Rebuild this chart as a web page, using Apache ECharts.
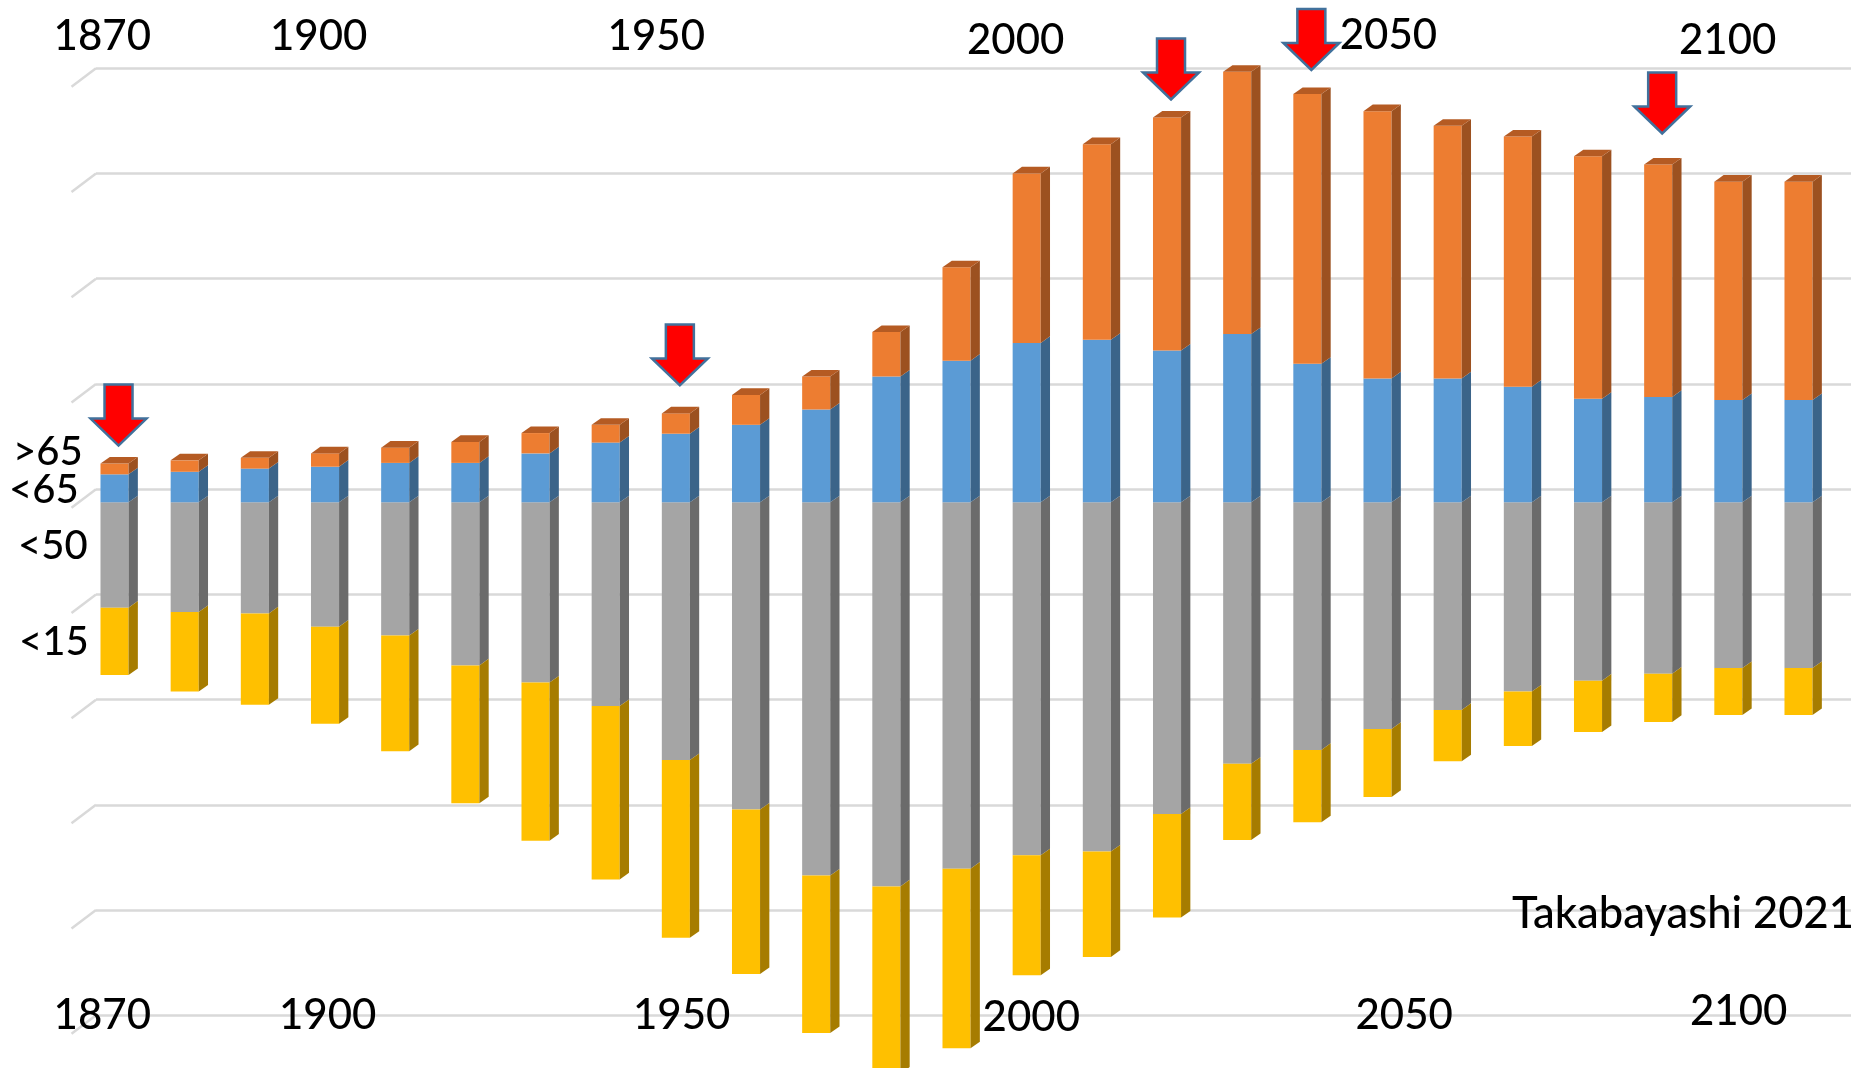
<!DOCTYPE html>
<html>
<head>
<meta charset="utf-8">
<title>Population by age group, 1870-2110</title>
<script src="https://cdn.jsdelivr.net/npm/echarts@6/dist/echarts.min.js"></script>
<style>
  html, body { margin: 0; padding: 0; background: #ffffff; }
  #chart { width: 1868px; height: 1068px; }
</style>
</head>
<body>
<div id="chart"></div>
<script>
// ---- data (millions of people) ----
const years = [1870, 1880, 1890, 1900, 1910, 1920, 1930, 1940, 1950, 1960, 1970, 1980, 1990,
               2000, 2010, 2020, 2030, 2040, 2050, 2060, 2070, 2080, 2090, 2100, 2110];
const under15   = [10.6, 12.5, 14.4, 15.3, 18.2, 21.7, 24.9, 27.3, 28.0, 25.9, 24.8, 29.5, 28.3,
                   18.9, 16.6, 16.3, 12.0, 11.4, 10.7, 8.1, 8.6, 8.1, 7.6, 7.4, 7.4];
const age15to49 = [16.6, 17.3, 17.5, 19.6, 21.0, 25.7, 28.4, 32.1, 40.6, 48.4, 58.8, 60.5, 57.7,
                   55.6, 55.0, 49.1, 41.2, 39.0, 35.7, 32.7, 29.8, 28.1, 27.0, 26.1, 26.1];
const age50to64 = [4.4, 4.8, 5.3, 5.6, 6.2, 6.2, 7.7, 9.4, 10.8, 12.2, 14.6, 19.8, 22.3,
                   25.1, 25.6, 23.9, 26.5, 21.8, 19.5, 19.5, 18.2, 16.3, 16.6, 16.1, 16.1];
const over65    = [1.7, 1.8, 1.7, 2.1, 2.4, 3.3, 3.2, 2.8, 3.2, 4.7, 5.2, 7.0, 14.7,
                   26.7, 30.8, 36.7, 41.3, 42.5, 42.1, 39.8, 39.4, 38.2, 36.6, 34.4, 34.4];

const arrowYears = [1870, 1950, 2020, 2040, 2090];
const topYearLabels = ['1870', '1900', '1950', '2000', '2050', '2100'];
const bottomYearLabels = ['1870', '1900', '1950', '2000', '2050', '2100'];
const ageLabels = ['>65', '<65', '<50', '<15'];
const creditText = 'Takabayashi 2021';
const gridLevels = [0, 1, 2, 3, 4, 5, 6, 7, 8, 9];

// ---- layout & style ----
const X_MIN = 1867.36, X_MAX = 2117.48;
const BAR_YEARS = 4;          // front-face width expressed in years
const DX = 9.3, DY = 6.6;     // depth offset of the 3D bars
const WALL_DX = 24.5, WALL_DY = 18.5;
const FONT = 'Lato, "Open Sans", sans-serif';

const topYearPos    = [[53.6, 36.7], [270, 36.7], [607.6, 36.2], [967, 40], [1339.7, 35], [1679, 40]];
const bottomYearPos = [[53.6, 1015], [279, 1015], [633, 1015.3], [982.6, 1017.5], [1355.5, 1015], [1690, 1011.7]];
const ageLabelPos   = [[13, 452.5], [9, 490.3], [18, 545.8], [19, 642]];
const arrowGapPx    = [18, 28, 18, 24, 31];

const palette = {
  '<15': { front: '#FFC000', side: '#A67C00', top: '#C79600' },
  '<50': { front: '#A5A5A5', side: '#6B6B6B', top: '#858585' },
  '<65': { front: '#5B9BD5', side: '#3B6489', top: '#4A7DAE' },
  '>65': { front: '#ED7D31', side: '#9C5120', top: '#B55B23' }
};

// stacked bounds: working-age split at zero, younger groups below, older above
function buildStack() {
  const rows = { '<50': [], '<15': [], '<65': [], '>65': [] };
  years.forEach((yr, i) => {
    const g = age15to49[i], y = under15[i], b = age50to64[i], o = over65[i];
    rows['<50'].push([yr, 0, -g]);
    rows['<15'].push([yr, -g, -(g + y)]);
    rows['<65'].push([yr, 0, b]);
    rows['>65'].push([yr, b, b + o]);
  });
  return rows;
}
const stack = buildStack();

function barRenderer(colors, withTop) {
  return function (params, api) {
    const yr = api.value(0);
    const a = api.coord([yr, api.value(1)]);
    const b = api.coord([yr, api.value(2)]);
    const w = api.size([BAR_YEARS, 0])[0];
    const left = a[0] - w / 2, right = a[0] + w / 2;
    const top = Math.min(a[1], b[1]), bottom = Math.max(a[1], b[1]);
    const children = [
      { type: 'rect', shape: { x: left, y: top, width: w, height: bottom - top },
        style: { fill: colors.front } },
      { type: 'polygon',
        shape: { points: [[right, top], [right + DX, top - DY], [right + DX, bottom - DY], [right, bottom]] },
        style: { fill: colors.side } }
    ];
    if (withTop) {
      children.push({ type: 'polygon',
        shape: { points: [[left, top], [left + DX, top - DY], [right + DX, top - DY], [right, top]] },
        style: { fill: colors.top } });
    }
    return { type: 'group', children };
  };
}

function barSeries(name, withTop) {
  return {
    name, type: 'custom', xAxisIndex: 0, yAxisIndex: 0, clip: false, z: 3,
    data: stack[name],
    encode: { x: 0, y: [1, 2] },
    renderItem: barRenderer(palette[name], withTop)
  };
}

const arrowData = arrowYears.map(yr => {
  const i = years.indexOf(yr);
  return [yr, age50to64[i] + over65[i]];
});

const gridData = gridLevels.map(l => [X_MIN, l]);

const chart = echarts.init(document.getElementById('chart'), null, { renderer: 'canvas' });

const graphics = [];
topYearLabels.forEach((t, i) => graphics.push({
  type: 'text', x: topYearPos[i][0], y: topYearPos[i][1], z: 10,
  style: { text: t, font: '500 42px ' + FONT, fill: '#000', textAlign: 'left', textVerticalAlign: 'middle' }
}));
bottomYearLabels.forEach((t, i) => graphics.push({
  type: 'text', x: bottomYearPos[i][0], y: bottomYearPos[i][1], z: 10,
  style: { text: t, font: '500 42px ' + FONT, fill: '#000', textAlign: 'left', textVerticalAlign: 'middle' }
}));
ageLabels.forEach((t, i) => graphics.push({
  type: 'text', x: ageLabelPos[i][0], y: ageLabelPos[i][1], z: 10,
  style: { text: t, font: '500 40px ' + FONT, fill: '#000', textAlign: 'left', textVerticalAlign: 'middle' }
}));
graphics.push({
  type: 'text', x: 1854, y: 914, z: 10,
  style: { text: creditText, font: '500 43.5px ' + FONT, fill: '#000', textAlign: 'right', textVerticalAlign: 'middle' }
});

chart.setOption({
  backgroundColor: '#ffffff',
  animation: false,
  grid: { left: 96, right: 17, top: 68.3, bottom: 52.7, containLabel: false },
  xAxis: {
    type: 'value', min: X_MIN, max: X_MAX, show: false
  },
  yAxis: [
    { type: 'value', min: -80.8, max: 68.35, show: false, splitLine: { show: false } },
    {
      type: 'value', min: 0, max: 9, interval: 1, position: 'right',
      axisLine: { show: false }, axisTick: { show: false }, axisLabel: { show: false },
      splitLine: { show: true, lineStyle: { color: '#D9D9D9', width: 2.5 } }
    }
  ],
  series: [
    {
      name: 'wall', type: 'custom', xAxisIndex: 0, yAxisIndex: 1, clip: false, z: 1,
      data: gridData,
      encode: { x: 0, y: 1 },
      renderItem: function (params, api) {
        const p = api.coord([api.value(0), api.value(1)]);
        return {
          type: 'line',
          shape: { x1: p[0] - WALL_DX, y1: p[1] + WALL_DY, x2: p[0], y2: p[1] },
          style: { stroke: '#D9D9D9', lineWidth: 2.5 }
        };
      }
    },
    barSeries('<50', false),
    barSeries('<15', false),
    barSeries('<65', false),
    barSeries('>65', true),
    {
      name: 'markers', type: 'custom', xAxisIndex: 0, yAxisIndex: 0, clip: false, z: 5,
      data: arrowData,
      encode: { x: 0, y: 1 },
      renderItem: function (params, api) {
        const p = api.coord([api.value(0), api.value(1)]);
        const tx = p[0] + 4, ty = p[1] - arrowGapPx[params.dataIndex];
        return {
          type: 'polygon',
          shape: { points: [
            [tx - 14, ty - 61], [tx + 14, ty - 61], [tx + 14, ty - 27], [tx + 28, ty - 27],
            [tx, ty], [tx - 28, ty - 27], [tx - 14, ty - 27]
          ] },
          style: { fill: '#FF0000', stroke: '#41719C', lineWidth: 2.5, lineJoin: 'miter' }
        };
      }
    }
  ],
  graphic: graphics
});
</script>
</body>
</html>
